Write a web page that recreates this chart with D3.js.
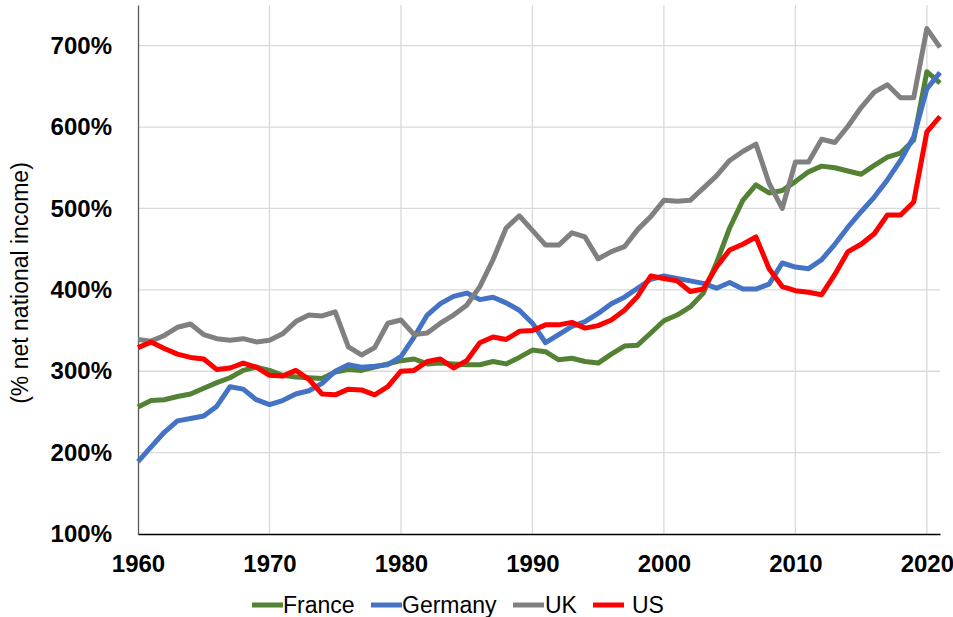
<!DOCTYPE html>
<html>
<head>
<meta charset="utf-8">
<script src="https://cdn.jsdelivr.net/npm/d3@7"></script>
<style>
  body { margin: 0; background: #fff; }
  text { font-family: "Liberation Sans", Arial, sans-serif; }
</style>
</head>
<body>
<svg id="chart" width="953" height="617"></svg>
<script>
const years = d3.range(1960, 2022);

const france = [256, 264, 265, 269, 272, 279, 286, 292, 301, 305, 301, 295, 293, 292, 291, 299, 302, 301, 305, 309,
  313, 315, 309, 310, 309, 308, 308, 312, 309, 317, 326, 324, 314, 316, 312, 310, 321, 331, 332, 347,
  362, 369, 379, 396, 433, 476, 510, 529, 519, 522, 533, 545, 552, 550, 546, 542, 553, 563, 568, 584,
  668, 654];
const germany = [189, 207, 225, 239, 242, 245, 257, 281, 278, 265, 259, 264, 272, 276, 285, 300, 308, 305, 306, 308,
  318, 342, 369, 383, 392, 396, 388, 391, 384, 375, 359, 335, 345, 355, 361, 371, 383, 391, 402, 413,
  417, 414, 411, 408, 402, 409, 401, 401, 407, 433, 428, 426, 437, 456, 477, 496, 514, 535, 559, 588,
  647, 667];
const uk = [339, 337, 344, 354, 358, 345, 340, 338, 340, 336, 338, 346, 361, 369, 368, 373, 330, 320, 329, 359,
  363, 345, 347, 359, 369, 381, 404, 437, 476, 491, 473, 455, 455, 470, 465, 438, 447, 453, 474, 490,
  510, 509, 510, 525, 540, 559, 570, 579, 531, 500, 557, 557, 585, 581, 601, 624, 643, 652, 636, 636,
  721, 698];
const us = [329, 336, 328, 321, 317, 315, 302, 304, 310, 305, 295, 294, 301, 290, 272, 271, 278, 277, 271, 281,
  300, 301, 312, 315, 304, 313, 335, 342, 339, 349, 350, 357, 357, 360, 353, 356, 363, 375, 392, 417,
  414, 411, 398, 401, 428, 449, 456, 465, 426, 404, 399, 397, 394, 419, 447, 456, 469, 492, 492, 508,
  594, 613];

const seriesNames = ["France", "Germany", "UK", "US"];
const seriesColors = ["#548235", "#4472c4", "#808080", "#ff0000"];
const seriesValues = [france, germany, uk, us];

const yTicks = [100, 200, 300, 400, 500, 600, 700];
const xTicks = [1960, 1970, 1980, 1990, 2000, 2010, 2020];

const svg = d3.select("#chart");
const margin = {top: 5, right: 13, bottom: 83, left: 138};
const width = +svg.attr("width") - margin.left - margin.right;
const height = +svg.attr("height") - margin.top - margin.bottom;
const g = svg.append("g").attr("transform", `translate(${margin.left},${margin.top})`);

const x = d3.scaleLinear().domain([1960, 2021]).range([0, width]);
const y = d3.scaleLinear().domain([100, 750]).range([height, 0]);

// grid
g.append("g")
  .selectAll("line")
  .data(yTicks.slice(1))
  .join("line")
  .attr("x1", 0).attr("x2", width)
  .attr("y1", d => y(d)).attr("y2", d => y(d))
  .attr("stroke", "#d9d9d9").attr("stroke-width", 1.3);

g.append("g")
  .selectAll("line")
  .data(xTicks.slice(1))
  .join("line")
  .attr("x1", d => x(d)).attr("x2", d => x(d))
  .attr("y1", 0).attr("y2", height)
  .attr("stroke", "#d9d9d9").attr("stroke-width", 1.3);

// axes
const yAxis = g.append("g")
  .call(d3.axisLeft(y).tickValues(yTicks).tickSize(0).tickPadding(26).tickFormat(d => d + "%"));
yAxis.select(".domain").attr("stroke", "#595959").attr("stroke-width", 1.3);
yAxis.selectAll("text")
  .attr("font-size", "24px").attr("font-weight", "bold").attr("fill", "#000")
  .style("font-family", "'Liberation Sans', Arial, sans-serif");

const xAxis = g.append("g")
  .attr("transform", `translate(0,${height})`)
  .call(d3.axisBottom(x).tickValues(xTicks).tickSize(0).tickPadding(21).tickFormat(d3.format("d")));
xAxis.select(".domain").attr("stroke", "#000").attr("stroke-width", 1.3);
xAxis.selectAll("text")
  .attr("font-size", "24px").attr("font-weight", "bold").attr("fill", "#000")
  .style("font-family", "'Liberation Sans', Arial, sans-serif");

svg.append("text")
  .attr("transform", "translate(28,283) rotate(-90)")
  .attr("text-anchor", "middle")
  .attr("font-size", "23px")
  .attr("fill", "#000")
  .text("(% net national income)");

// lines
const line = d3.line()
  .x((d, i) => x(years[i]))
  .y(d => y(d));

g.append("g")
  .selectAll("path")
  .data(seriesValues)
  .join("path")
  .attr("d", d => line(d))
  .attr("fill", "none")
  .attr("stroke", (d, i) => seriesColors[i])
  .attr("stroke-width", 5)
  .attr("stroke-linejoin", "round")
  .attr("stroke-linecap", "butt");

// legend
const legendX = [252, 371, 513, 593];
const legendGap = [31, 31, 32, 39];
const legend = svg.append("g")
  .selectAll("g")
  .data(seriesNames)
  .join("g")
  .attr("transform", (d, i) => `translate(${legendX[i]},605)`);

legend.append("line")
  .attr("x1", 0).attr("x2", 31)
  .attr("stroke", (d, i) => seriesColors[i])
  .attr("stroke-width", 5);

legend.append("text")
  .attr("x", (d, i) => legendGap[i])
  .attr("dy", "0.35em")
  .attr("font-size", "23px")
  .attr("fill", "#000")
  .text(d => d);
</script>
</body>
</html>
